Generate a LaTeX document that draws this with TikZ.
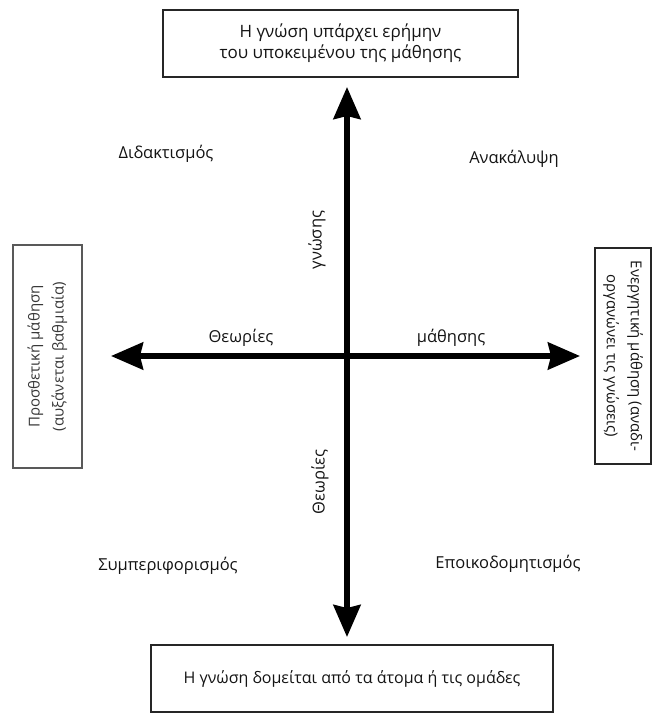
\documentclass[tikz,border=0pt]{standalone}
\usepackage{fontspec}
\setmainfont{Open Sans}
\usetikzlibrary{arrows.meta}
\begin{document}
\begin{tikzpicture}[x=1pt,y=-1pt,
  lbl/.style={font=\fontsize{16.5}{20}\selectfont, text=black!92, inner sep=0pt},
  frame/.style={draw=black!85, line width=1.1pt, text=black!92, align=center,
    font=\fontsize{16.5}{21}\selectfont, inner sep=0pt},
  sideframe/.style={frame, font=\fontsize{15}{24}\selectfont},
  axis/.style={line width=5.5pt, draw=black,
    {Stealth[length=32pt,width=27pt,inset=3pt]}-{Stealth[length=32pt,width=27pt,inset=3pt]}}
]
\useasboundingbox (0,0) rectangle (659,713);

% boxes
\node[frame, font=\fontsize{17}{21}\selectfont, minimum width=355pt, minimum height=67pt] (topbox) at (340.5,43.5)
  {Η γνώση υπάρχει ερήμην\\του υποκειμένου της μάθησης};
\node[frame, font=\fontsize{16}{20}\selectfont, minimum width=402pt, minimum height=67pt] (botbox) at (352,678.5)
  {Η γνώση δομείται από τα άτομα ή τις ομάδες};
\node[sideframe, draw=black!65, text=black!78, rotate=90,
  minimum width=223pt, minimum height=69pt] (leftbox) at (47.5,356.5)
  {Προσθετική μάθηση\\(αυξάνεται βαθμιαία)};
\node[sideframe, rotate=-90,
  minimum width=216pt, minimum height=56pt] (rightbox) at (623,356)
  {Ενεργητική μάθηση (αναδι-\\οργανώνει τις γνώσεις)};

% axes
\coordinate (vtop) at (347,87);
\coordinate (vbot) at (347,637);
\coordinate (hleft) at (111,356);
\coordinate (hright) at (580,356);
\draw[axis] (vbot) -- (vtop);
\draw[axis] (hleft) -- (hright);

% quadrant labels
\node[lbl] (q1) at (166,154) {Διδακτισμός};
\node[lbl] (q2) at (514,159) {Ανακάλυψη};
\node[lbl] (q3) at (168,566) {Συμπεριφορισμός};
\node[lbl] (q4) at (508,564) {Εποικοδομητισμός};

% axis labels
\node[lbl] (aleft) at (241,338) {Θεωρίες};
\node[lbl] (aright) at (451,338) {μάθησης};
\node[lbl, rotate=90] (aup) at (317,240) {γνώσης};
\node[lbl, rotate=90] (adown) at (320,482) {Θεωρίες};
\end{tikzpicture}
\end{document}
